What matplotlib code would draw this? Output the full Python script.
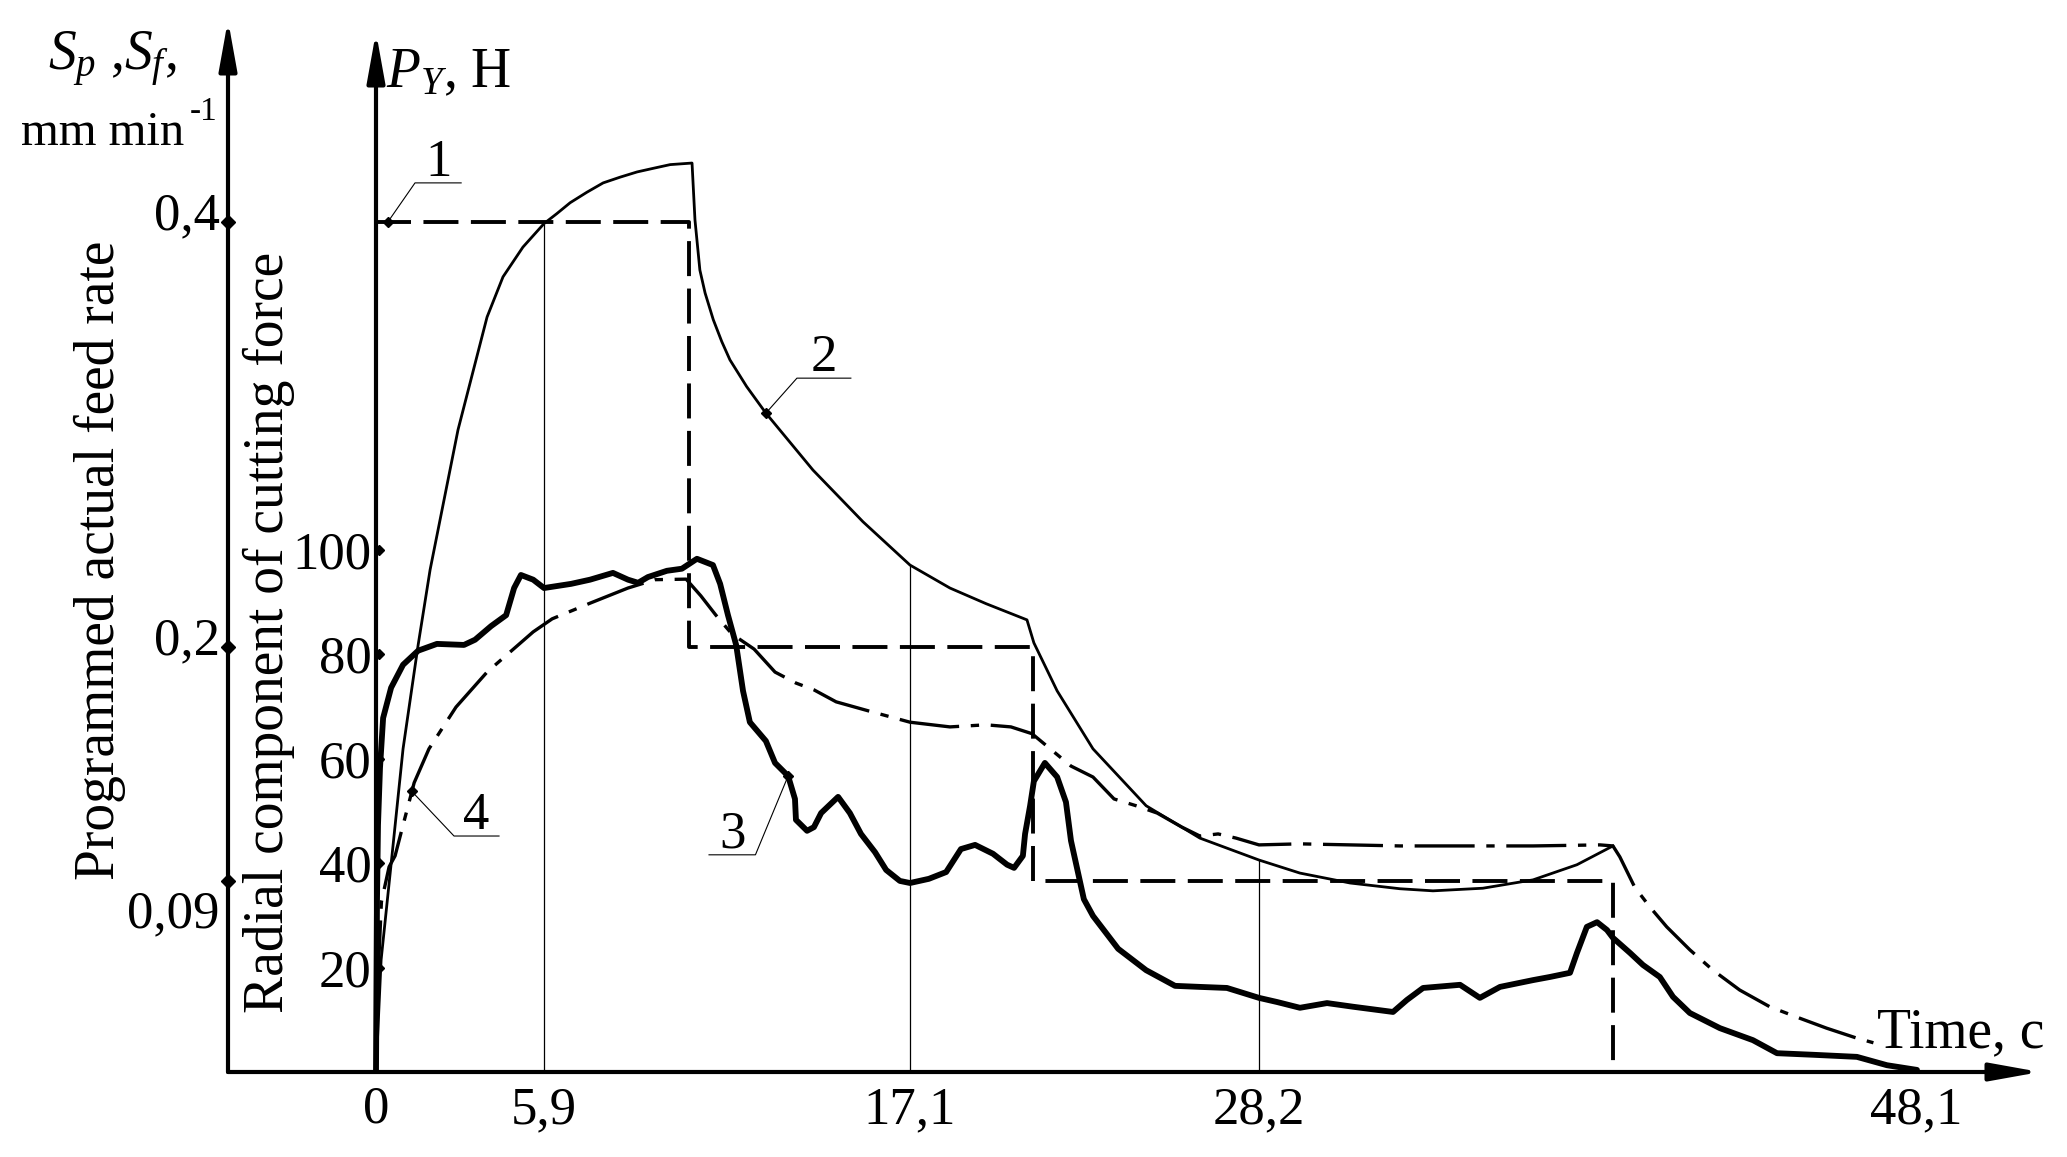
import numpy as np
import matplotlib
matplotlib.use('Agg')
import matplotlib.pyplot as plt

plt.rcParams['font.family'] = ['Liberation Serif', 'DejaVu Serif']
plt.rcParams['mathtext.fontset'] = 'custom'
plt.rcParams['mathtext.rm'] = 'Liberation Serif'
plt.rcParams['mathtext.it'] = 'Liberation Serif:italic'

# ---- data ----
time_ticks = [0, 5.9, 17.1, 28.2, 48.1]
time_labels = ['0', '5,9', '17,1', '28,2', '48,1']
force_ticks = [20, 40, 60, 80, 100]
feed_ticks = [0.09, 0.2, 0.4]
feed_labels = ['0,09', '0,2', '0,4']

# 1 - programmed feed rate, mm/min (dashed)
feed_t = [0, 10.34, 10.34, 21.0, 21.0, 38.92, 38.92]
feed_s = [0.4, 0.4, 0.2, 0.2, 0.09, 0.09, 0.0]

# 2 - thin solid curve, N
t2 = [0, 0.18, 0.53, 0.95, 1.48, 1.9, 2.88, 3.9, 4.46, 5.16,
      5.9, 6.29, 6.7, 7.21, 7.71, 8.23, 8.75, 9.25, 9.76, 10.43,
      10.52, 10.67, 10.83, 11.08, 11.34, 11.59, 12.1, 12.69, 14.13, 15.66,
      17.1, 18.37, 19.52, 20.82, 21.04, 21.78, 22.92, 24.61, 26.32, 28.2,
      29.44, 30.96, 32.47, 33.47, 34.98, 36.5, 37.83, 38.92]
p2 = [0, 21.5, 39.8, 61.9, 81.8, 96.2, 123.0, 144.6, 152.3, 158.0,
      162.5, 164.4, 166.5, 168.5, 170.3, 171.4, 172.4, 173.1, 173.8, 174.1,
      163.2, 153.6, 149.2, 144.1, 139.9, 136.4, 131.3, 126.2, 115.3, 105.4,
      97.1, 92.7, 89.7, 86.6, 82.2, 73.0, 61.9, 51.0, 44.8, 40.6,
      38.1, 36.2, 35.1, 34.7, 35.2, 36.8, 39.7, 43.3]

# 3 - thick solid curve, N
t3 = [0, 0.035, 0.07, 0.14, 0.25, 0.53, 0.95, 1.48, 2.14, 3.09,
      3.48, 4.04, 4.57, 4.85, 5.09, 5.52, 5.9, 6.73, 7.31, 8.01,
      8.47, 8.78, 9.08, 9.66, 10.12, 10.58, 11.07, 11.29, 11.53, 11.78,
      11.99, 12.2, 12.69, 12.97, 13.37, 13.58, 13.61, 13.95, 14.16, 14.38,
      14.9, 15.26, 15.6, 16.03, 16.37, 16.79, 17.1, 17.7, 18.25, 18.72,
      19.17, 19.74, 20.19, 20.41, 20.69, 20.76, 20.92, 21.04, 21.39, 21.78,
      22.06, 22.22, 22.63, 22.92, 23.72, 24.61, 25.53, 26.32, 27.18, 28.2,
      28.75, 29.44, 30.26, 31.05, 32.26, 32.68, 33.17, 34.29, 34.89, 35.5,
      36.5, 37.01, 37.62, 37.83, 38.13, 38.44, 38.74, 38.92, 39.44, 39.83,
      40.34, 40.74, 41.25, 42.16, 43.16, 43.89, 44.98, 46.31, 47.22, 48.13]
p3 = [0, 33.0, 47.3, 58.2, 67.8, 73.6, 78.0, 80.7, 82.0, 81.8,
      82.8, 85.4, 87.5, 92.7, 95.2, 94.3, 92.7, 93.5, 94.3, 95.6,
      94.3, 93.7, 94.8, 96.0, 96.4, 98.3, 97.1, 93.5, 87.5, 81.8,
      73.0, 67.0, 63.4, 59.2, 56.7, 52.3, 48.3, 46.2, 46.9, 49.6,
      52.7, 49.6, 45.6, 42.1, 38.7, 36.6, 36.2, 37.0, 38.3, 42.7,
      43.5, 41.8, 39.7, 39.1, 41.4, 45.6, 51.0, 55.7, 59.2, 56.5,
      51.7, 44.3, 33.1, 29.9, 23.6, 19.5, 16.5, 16.3, 16.1, 14.2,
      13.4, 12.3, 13.2, 12.5, 11.5, 13.8, 16.1, 16.7, 14.2, 16.3,
      17.6, 18.2, 19.0, 22.8, 27.8, 28.7, 27.2, 25.7, 22.8, 20.5,
      18.2, 14.4, 11.3, 8.4, 6.1, 3.6, 3.3, 2.9, 1.3, 0.4]

# 4 - dash-dot curve, N
t4 = [0, 0.07, 0.19, 0.46, 0.67, 0.95, 1.34, 1.86, 2.81, 3.9,
      5.52, 6.15, 7.31, 8.47, 9.3, 10.25, 10.7, 11.16, 11.65, 12.33,
      12.97, 13.61, 14.16, 14.84, 15.81, 17.1, 18.37, 19.52, 20.31, 20.98,
      21.68, 22.22, 22.92, 23.59, 24.29, 24.96, 25.75, 26.32, 26.9, 27.47,
      28.2, 29.44, 30.96, 32.47, 34.5, 36.5, 38.53, 38.92, 39.13, 39.58,
      40.04, 40.55, 41.25, 41.95, 42.76, 43.67, 44.58, 45.39, 46.3, 46.81]
p4 = [0, 18.0, 32.6, 39.3, 41.4, 47.3, 55.4, 61.9, 69.9, 76.6,
      84.3, 86.8, 89.8, 92.7, 94.3, 94.4, 91.2, 87.5, 83.9, 81.0,
      76.6, 74.5, 73.2, 70.9, 69.2, 67.0, 66.1, 66.5, 66.1, 64.8,
      61.3, 58.6, 56.5, 52.3, 51.0, 49.6, 46.9, 45.2, 45.6, 44.8,
      43.5, 43.7, 43.5, 43.3, 43.3, 43.3, 43.5, 43.3, 41.2, 35.4,
      31.6, 27.8, 23.4, 19.5, 15.7, 12.5, 10.3, 8.4, 6.5, 5.6]

# ---- layout ----
W, H = 2067, 1157
N_PER_FEED = 407.1          # force units per 1 mm/min on the left scale
P_TOP = 201.5
P_ARROW = 199.2
# hand drawn time axis is not uniform: knots (time -> pixel)
T_KNOTS = [-5.2, 0, 5.9, 17.1, 28.2, 48.1, 51.86]
PX_KNOTS = [228, 376, 544, 910, 1259, 1916, 2040]
FS = 38


def fwd(t):
    return np.interp(t, T_KNOTS, PX_KNOTS)


def inv(u):
    return np.interp(u, PX_KNOTS, T_KNOTS)


fig = plt.figure(figsize=(W / 100, H / 100), dpi=100)
ax = fig.add_axes([228 / W, 1 - 1072 / H, (2040 - 228) / W, (1072 - 20) / H])
ax.set_xscale('function', functions=(fwd, inv))
ax.set_xlim(T_KNOTS[0], T_KNOTS[-1])
ax.set_ylim(0, P_TOP)
ax.patch.set_visible(False)

axf = ax.twinx()
axf.set_ylim(0, P_TOP / N_PER_FEED)

for a in (ax, axf):
    for s in a.spines.values():
        s.set_visible(False)

ax.spines['left'].set_position(('data', 0))
ax.set_xticks(time_ticks)
ax.set_xticklabels(time_labels)
ax.set_yticks(force_ticks)
ax.set_yticklabels([str(v) for v in force_ticks])
ax.tick_params(axis='x', length=0, pad=10, labelsize=FS)
ax.tick_params(axis='y', length=0, pad=3, labelsize=FS)
axf.set_yticks([])

# axes with arrows
arrow_kw = dict(arrowstyle='-|>,head_length=1.0,head_width=0.18', mutation_scale=30,
                lw=3, color='black', shrinkA=0, shrinkB=0)
ax.annotate('', xy=(1, 0), xytext=(0, 0), xycoords='axes fraction',
            arrowprops=arrow_kw, annotation_clip=False)
ax.annotate('', xy=(0, 1), xytext=(0, 0), xycoords='axes fraction',
            arrowprops=arrow_kw, annotation_clip=False)
ax.annotate('', xy=(0, P_ARROW), xytext=(0, 0), xycoords='data',
            arrowprops=arrow_kw, annotation_clip=False)

# tick diamonds
ax.plot(np.zeros(len(force_ticks)) + 0.1, force_ticks, 'D', ms=5, color='black', clip_on=False)
axf.plot(np.full(len(feed_ticks), T_KNOTS[0]), feed_ticks, 'D', ms=7, color='black', clip_on=False)
feed_label_dy = [-24, 4, 4]
for v, lbl, dy in zip(feed_ticks, feed_labels, feed_label_dy):
    axf.annotate(lbl, xy=(0, v), xycoords=('axes fraction', 'data'), xytext=(-6, dy),
                 textcoords='offset points', ha='right', va='center', fontsize=FS)

# vertical reference lines up to curve 2
for tv in time_ticks[1:4]:
    ax.vlines(tv, 0, np.interp(tv, t2, p2), color='black', lw=0.9)

# curves
axf.plot(feed_t, feed_s, color='black', lw=2.8, dashes=(9, 3.2))
ax.plot(t2, p2, color='black', lw=2.0, solid_joinstyle='round')
ax.plot(t4, p4, color='black', lw=2.4, dashes=(18, 3.5, 2.5, 3.5))
ax.plot(t3, p3, color='black', lw=4.2, solid_joinstyle='round', solid_capstyle='round')

# numbered leaders
leader_labels = ['1', '2', '3', '4']
leader_anchor_t = [0.42, 12.69, 13.37, 1.26]
leader_anchor_p = [np.interp(0.42, feed_t[:2], feed_s[:2]) * N_PER_FEED,
                   np.interp(12.69, t2, p2),
                   np.interp(13.37, t3, p3),
                   np.interp(1.26, t4, p4)]
leader_elbow = [(1.37, 170.3), (13.64, 132.9), (12.37, 41.6), (2.74, 45.2)]
leader_end_t = [2.99, 15.29, 10.95, 4.32]
for lbl, at, ap, (et, ep), endt in zip(leader_labels, leader_anchor_t, leader_anchor_p,
                                       leader_elbow, leader_end_t):
    ax.plot([at, et, endt], [ap, ep, ep], color='black', lw=0.8)
    ax.plot([at], [ap], 'D', ms=5, color='black')
    ax.annotate(lbl, xy=((et + endt) / 2, ep), xytext=(0, 5), textcoords='offset points',
                ha='center', va='baseline', fontsize=FS)

# axis titles
fig.text(48 / W, 1 - 70 / H, r'$S_p$ ,$S_f$,', fontsize=40, ha='left', va='baseline')
fig.text(21 / W, 1 - 145 / H, 'mm min', fontsize=35, ha='left', va='baseline')
fig.text(190 / W, 1 - 120 / H, '-1', fontsize=24, ha='left', va='baseline')
fig.text(386 / W, 1 - 87 / H, r'$P_Y$, H', fontsize=40, ha='left', va='baseline')
fig.text(1877 / W, 1 - 1047 / H, 'Time, c', fontsize=40, ha='left', va='baseline')
fig.text(100 / W, 1 - 560 / H, 'Programmed actual feed rate', fontsize=40,
         rotation=90, ha='center', va='center')
fig.text(269 / W, 1 - 632 / H, 'Radial component of cutting force', fontsize=40,
         rotation=90, ha='center', va='center')

fig.savefig('out.png', dpi=100)
